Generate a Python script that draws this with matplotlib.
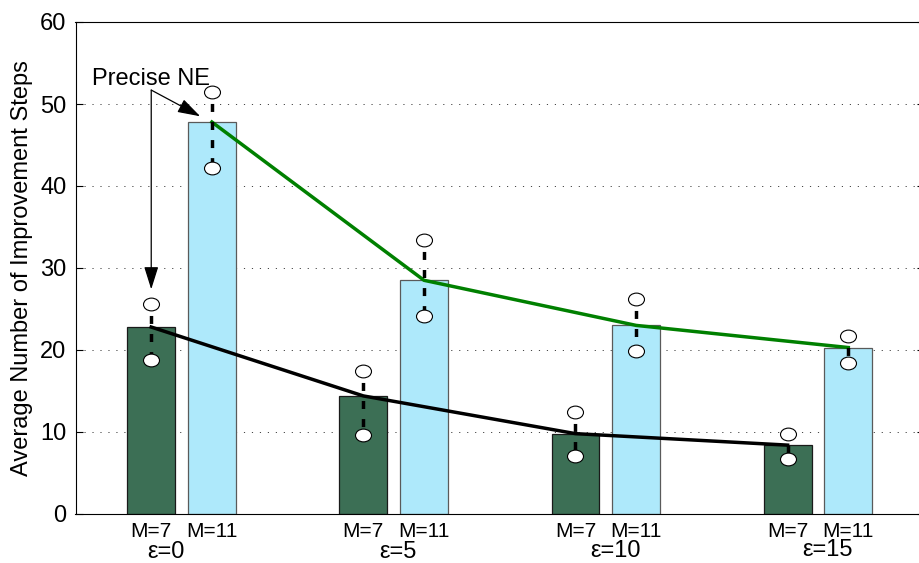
import numpy as np
import matplotlib.pyplot as plt
from matplotlib.path import Path
from matplotlib.transforms import Affine2D

plt.rcParams['font.family'] = ['Liberation Sans', 'DejaVu Sans']

# average improvement steps per precision level, with spread markers
eps_labels = ['ε=0', 'ε=5', 'ε=10', 'ε=15']
m7_mean = [22.8, 14.4, 9.8, 8.4]
m7_low = [18.8, 9.6, 7.1, 6.7]
m7_high = [25.6, 17.5, 12.4, 9.8]
m11_mean = [47.8, 28.5, 23.0, 20.3]
m11_low = [42.2, 24.1, 19.9, 18.4]
m11_high = [51.5, 33.4, 26.2, 21.7]

fig = plt.figure(figsize=(9.19, 5.63), dpi=100)
ax = fig.add_axes([75.5 / 919, 49 / 563, 848.5 / 919, 492 / 563])

x = np.arange(len(eps_labels))
off = 0.143
w = 0.226

ax.bar(x - off, m7_mean, w, color='#3c6f55', edgecolor='#1a1a1a', lw=0.9, zorder=2)
ax.bar(x + off, m11_mean, w, color='#aee9fb', edgecolor='#5a5a5a', lw=0.9, zorder=2)

ax.plot(x - off, m7_mean, color='k', lw=2.5, zorder=3)
ax.plot(x + off, m11_mean, color=(0, 0.5, 0), lw=2.5, zorder=3)

# flattened circle for the spread ends
oval = Path.unit_circle().transformed(Affine2D().scale(1.0, 0.8))

for pos, lo, hi in ((x - off, m7_low, m7_high), (x + off, m11_low, m11_high)):
    for xi, l, h in zip(pos, lo, hi):
        ax.plot([xi, xi], [h, l], color='k', lw=2.5, ls=(1.9, (2.3, 2.9)), zorder=4)
    ax.plot(pos, lo, ls='none', marker=oval, ms=11.5, mfc='white', mec='k', mew=0.8, zorder=5)
    ax.plot(pos, hi, ls='none', marker=oval, ms=11.5, mfc='white', mec='k', mew=0.8, zorder=5)

ax.set_xlim(-0.5, 3.5)
ax.set_ylim(0, 60)
ax.set_yticks(range(0, 61, 10))
ax.set_xticks(np.concatenate([x - off, x + off]))
ax.set_xticklabels(['M=7'] * 4 + ['M=11'] * 4)

ax.set_axisbelow(True)
ax.yaxis.grid(True, color='#444444', lw=0.7, ls=(0, (1.2, 7.0)))
ax.tick_params(axis='y', direction='in', length=5, width=0.8, right=True, labelsize=17, pad=6.5)
ax.tick_params(axis='x', length=0, labelsize=15, pad=5.5)
for s in ax.spines.values():
    s.set_linewidth(0.8)

ax.set_ylabel('Average Number of Improvement Steps', fontsize=17)
ax.yaxis.set_label_coords(-(75.5 - 33) / 848.5, 0.5)

# group captions under the bar labels
eps_dx = [-0.072, 0.018, 0.045, 0.044]
eps_base = [558, 558, 557, 556]
for i, lab in enumerate(eps_labels):
    ax.text(x[i] + eps_dx[i], -(eps_base[i] - 514) / 492, lab,
            transform=ax.get_xaxis_transform(), ha='center', va='baseline',
            fontsize=17, clip_on=False)

# annotation pointing at the exact-equilibrium bars
ax.text(x[0] - off, 52.3, 'Precise NE', ha='center', va='baseline', fontsize=17)
arrow = dict(arrowstyle='-|>,head_length=0.7,head_width=0.22', color='k', lw=0.9,
             mutation_scale=20, shrinkA=0, shrinkB=0)
ax.annotate('', xy=(x[0] - off, m7_high[0] + 1.8), xytext=(x[0] - off, 51.7), arrowprops=arrow)
ax.annotate('', xy=(x[0] + off - 0.055, m11_mean[0] + 0.7), xytext=(x[0] - off, 51.7),
            arrowprops=arrow)

fig.savefig('out.png', dpi=100)
